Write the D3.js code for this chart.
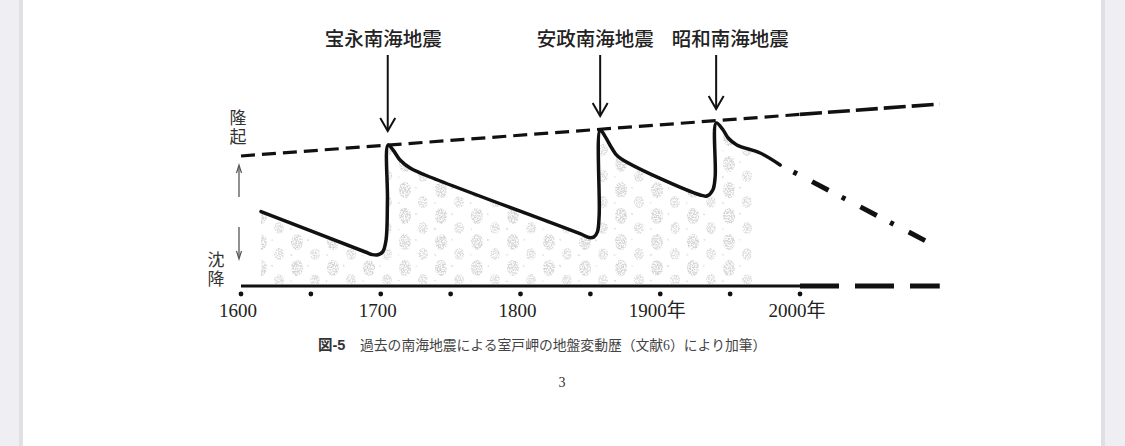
<!DOCTYPE html>
<html>
<head>
<meta charset="utf-8">
<title>室戸岬の地盤変動歴</title>
<style>
html,body{margin:0;padding:0;background:#efeef3;overflow:hidden;}
svg{display:block;}
</style>
</head>
<body>
<div id="chart"></div>
<script src="https://cdn.jsdelivr.net/npm/d3@7/dist/d3.min.js"></script>
<script>
// axis
var tickYears = [1600, 1650, 1700, 1750, 1800, 1850, 1900, 1950, 2000];
var labelYears = [1600, 1700, 1800, 1900, 2000];
var labelText = ["1600", "1700", "1800", "1900年", "2000年"];

// ground height at Muroto (relative units)
var curveYears  = [1614.3, 1689, 1694, 1698, 1701.5, 1703.8, 1704.8, 1705.2,
                   1708.8, 1713.8, 1721, 1731.7, 1844.8, 1849, 1852.5, 1855, 1856.3, 1857,
                   1860.6, 1865.4, 1869.9, 1928.6, 1933.4, 1937.6, 1939.3, 1940,
                   1945, 1948.6, 1954.8, 1971.5, 1985.8];
var curveHeight = [3.72, 1.70, 1.57, 1.56, 1.72, 2.3, 4.3, 7.05,
                   6.8, 6.3, 5.9, 5.55, 2.55, 2.42, 2.45, 2.7, 3.55, 7.8,
                   7.47, 6.89, 6.47, 4.55, 4.5, 4.8, 5.47, 8.15,
                   7.8, 7.4, 7.05, 6.65, 6.05];

// expected subsidence after Showa (dash-dot)
var futureYears = [1985.8, 2090];
var futureHeight = [6.05, 2.25];

// long-term uplift trend (dashed)
var trendYears = [1600, 2000, 2100];
var trendHeight = [6.5, 8.58, 9.1];

// earthquakes
var quakeNames = ["宝永南海地震", "安政南海地震", "昭和南海地震"];
var quakeYears = [1705, 1857, 1940];
var quakePeak = [7.05, 7.8, 8.15];

var W = 1125, H = 446;
var svg = d3.select("#chart").append("svg").attr("width", W).attr("height", H);

// page
svg.append("rect").attr("x", 0).attr("y", 0).attr("width", W).attr("height", H).attr("fill", "#efeef3");
svg.append("rect").attr("x", 19).attr("y", 0).attr("width", 1086).attr("height", H).attr("fill", "#dfdfe4");
svg.append("rect").attr("x", 23).attr("y", 0).attr("width", 1078).attr("height", H).attr("fill", "#fff");

var x = d3.scaleLinear().domain([1600, 2000]).range([241, 800]);
var y = d3.scaleLinear().domain([0, 10]).range([286, 86]);

var curve = curveYears.map(function (d, i) { return [d, curveHeight[i]]; });

// faint speckled background texture
var defs = svg.append("defs");
var pat = defs.append("pattern").attr("id", "speck")
  .attr("patternUnits", "userSpaceOnUse").attr("width", 36).attr("height", 26);
pat.append("ellipse").attr("cx", 9).attr("cy", 8).attr("rx", 6).attr("ry", 8).attr("fill", "#c4c4c4");
pat.append("ellipse").attr("cx", 27).attr("cy", 20).attr("rx", 5).attr("ry", 6).attr("fill", "#cecece");
pat.append("circle").attr("cx", 20).attr("cy", 6).attr("r", 1.3).attr("fill", "#d4d4d4");
pat.append("circle").attr("cx", 3).attr("cy", 21).attr("r", 1.3).attr("fill", "#d4d4d4");

var f = defs.append("filter").attr("id", "grain");
f.append("feTurbulence").attr("type", "fractalNoise").attr("baseFrequency", 0.7)
  .attr("numOctaves", 3).attr("seed", 7).attr("result", "n");
f.append("feColorMatrix").attr("in", "n").attr("type", "matrix")
  .attr("values", "0 0 0 0 0  0 0 0 0 0  0 0 0 0 0  3.2 0 0 0 -1.1").attr("result", "m");
f.append("feComposite").attr("in", "SourceGraphic").attr("in2", "m").attr("operator", "in");

defs.append("clipPath").attr("id", "texClip").append("rect")
  .attr("x", x(1614)).attr("y", 0).attr("width", x(1968) - x(1614)).attr("height", H);

var ln = d3.line().x(function (d) { return x(d[0]); }).y(function (d) { return y(d[1]); })
  .curve(d3.curveCatmullRom.alpha(0.5));
var ar = d3.area().x(function (d) { return x(d[0]); }).y0(y(0) - 2).y1(function (d) { return y(d[1]); })
  .curve(d3.curveCatmullRom.alpha(0.5));

svg.append("path").datum(curve).attr("d", ar)
  .attr("fill", "url(#speck)").attr("filter", "url(#grain)")
  .attr("clip-path", "url(#texClip)").attr("opacity", 0.75);

// trend line
var trend = trendYears.map(function (d, i) { return [d, trendHeight[i]]; });
var straight = d3.line().x(function (d) { return x(d[0]); }).y(function (d) { return y(d[1]); });
svg.append("path").datum(trend.slice(0, 2)).attr("d", straight)
  .attr("fill", "none").attr("stroke", "#111").attr("stroke-width", 3.2).attr("stroke-dasharray", "14,7");
svg.append("path").datum(trend.slice(1)).attr("d", straight)
  .attr("fill", "none").attr("stroke", "#111").attr("stroke-width", 3.6).attr("stroke-dasharray", "22,6");

// baseline
svg.append("path").datum([[1600, 0], [2000, 0]]).attr("d", straight)
  .attr("stroke", "#111").attr("stroke-width", 3);
svg.append("path").datum([[2000, 0], [2100, 0]]).attr("d", straight)
  .attr("stroke", "#111").attr("stroke-width", 5).attr("stroke-dasharray", "39,16");

// ground movement curve
svg.append("path").datum(curve).attr("d", ln)
  .attr("fill", "none").attr("stroke", "#111").attr("stroke-width", 3.5)
  .attr("stroke-linejoin", "round").attr("stroke-linecap", "round");

var future = futureYears.map(function (d, i) { return [d, futureHeight[i]]; });
svg.append("path").datum(future).attr("d", straight)
  .attr("fill", "none").attr("stroke", "#111").attr("stroke-width", 5)
  .attr("stroke-dasharray", "18.5,15,4,17").attr("stroke-dashoffset", 18.5);

// tick dots and labels
svg.selectAll(".dot").data(tickYears).enter().append("circle")
  .attr("cx", function (d) { return x(d); }).attr("cy", 294).attr("r", 2.4).attr("fill", "#111");

svg.selectAll(".yr").data(labelYears).enter().append("text")
  .attr("x", function (d) { return x(d) - 3; }).attr("y", 316.5)
  .attr("text-anchor", "middle")
  .style("font-family", "'Liberation Serif', 'Noto Sans CJK JP', serif")
  .style("font-size", "19px").attr("fill", "#222")
  .text(function (d, i) { return labelText[i]; });

// vertical labels 隆起 / 沈降
function vlabel(txt, cx, top) {
  svg.append("text").attr("x", cx).attr("y", top)
    .attr("writing-mode", "tb").style("letter-spacing", "2px")
    .style("font-family", "'Noto Sans CJK JP', sans-serif").style("font-size", "17px")
    .attr("fill", "#333").text(txt);
}
vlabel("隆起", 238, 109);
vlabel("沈降", 216, 251);

// small direction arrows
var ax = 239;
svg.append("line").attr("x1", ax).attr("x2", ax).attr("y1", y(4.45)).attr("y2", y(6.0))
  .attr("stroke", "#555").attr("stroke-width", 1.3);
svg.append("path").attr("d", "M" + (ax - 2.5) + "," + (y(6.0) + 7) + "L" + ax + "," + y(6.05) + "L" + (ax + 2.5) + "," + (y(6.0) + 7))
  .attr("fill", "none").attr("stroke", "#555").attr("stroke-width", 1.2);
svg.append("line").attr("x1", ax).attr("x2", ax).attr("y1", y(2.95)).attr("y2", y(1.4))
  .attr("stroke", "#555").attr("stroke-width", 1.3);
svg.append("path").attr("d", "M" + (ax - 2.5) + "," + (y(1.4) - 7) + "L" + ax + "," + y(1.35) + "L" + (ax + 2.5) + "," + (y(1.4) - 7))
  .attr("fill", "none").attr("stroke", "#555").attr("stroke-width", 1.2);

// earthquake arrows and names
var labelDx = [-4.5, -5, 14];
quakeYears.forEach(function (yr, i) {
  var qx = x(yr), tip = y(quakePeak[i]) - 14;
  svg.append("line").attr("x1", qx).attr("x2", qx).attr("y1", 55).attr("y2", tip)
    .attr("stroke", "#111").attr("stroke-width", 2);
  svg.append("path").attr("d", "M" + (qx - 7.5) + "," + (tip - 13) + "L" + qx + "," + tip + "L" + (qx + 7.5) + "," + (tip - 13))
    .attr("fill", "none").attr("stroke", "#111").attr("stroke-width", 2);
  svg.append("text").attr("x", qx + labelDx[i]).attr("y", 46).attr("text-anchor", "middle")
    .style("font-family", "'Noto Sans CJK JP', sans-serif").style("font-size", "19.5px")
    .style("font-weight", 500).attr("fill", "#222").text(quakeNames[i]);
});

// caption
svg.append("text").attr("x", 318).attr("y", 350)
  .style("font-family", "'Liberation Sans', 'Noto Sans CJK JP', sans-serif")
  .style("font-size", "14.5px").style("font-weight", "bold").attr("fill", "#333").text("図-5");
svg.append("text").attr("x", 360).attr("y", 350)
  .style("font-family", "'Liberation Serif', 'Noto Sans CJK JP', serif")
  .style("font-size", "13.8px").attr("fill", "#444")
  .text("過去の南海地震による室戸岬の地盤変動歴（文献6）により加筆）");
svg.append("text").attr("x", 562).attr("y", 387).attr("text-anchor", "middle")
  .style("font-family", "'Liberation Serif', serif").style("font-size", "14px")
  .attr("fill", "#333").text("3");
</script>
</body>
</html>
